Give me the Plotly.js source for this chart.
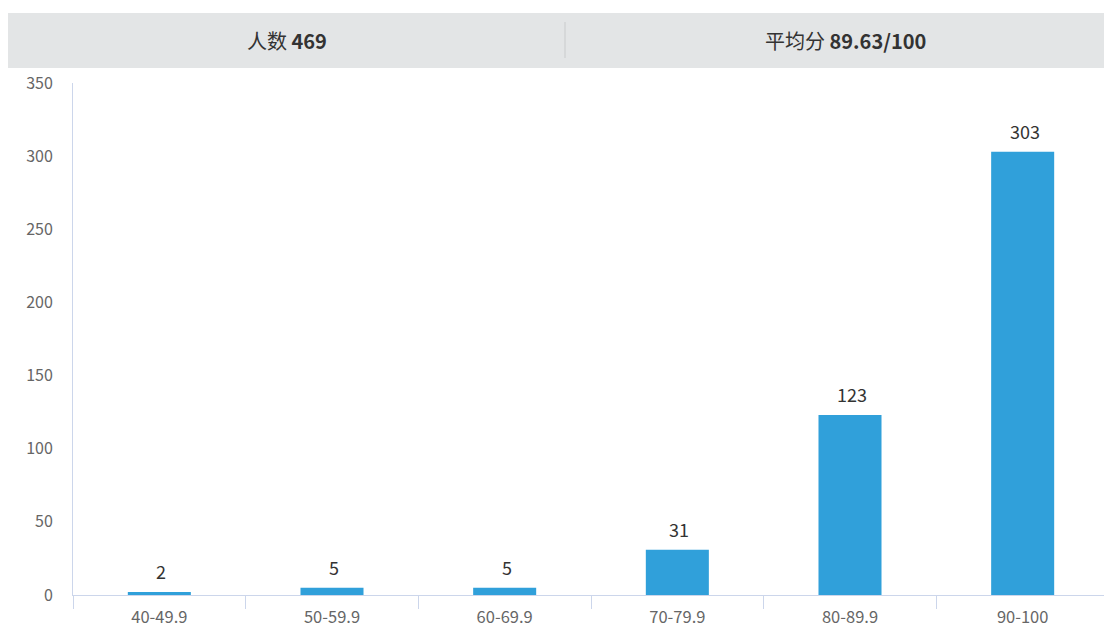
<!DOCTYPE html>
<html><head><meta charset="utf-8">
<script src="https://cdn.plot.ly/plotly-3.0.1.min.js"></script>
<style>html,body{margin:0;padding:0;overflow:hidden;background:#fff}</style>
</head><body>
<div id="chart" style="width:1120px;height:642px"></div>
<script>
const categories = ['40-49.9','50-59.9','60-69.9','70-79.9','80-89.9','90-100'];
const counts = [2, 5, 5, 31, 123, 303];
const yTicks = [0, 50, 100, 150, 200, 250, 300, 350];
const headerLeft = '人数 <b>469</b>';
const headerRight = '平均分 <b>89.63/100</b>';

const FONT = '"Noto Sans CJK SC", "Noto Sans", sans-serif';
const W = 1120, H = 642, ML = 73, MR = 11, MT = 83, MB = 47;
const pw = W - ML - MR, ph = H - MT - MB;
const px = v => (v - ML) / pw;
const py = v => (H - MB - v) / ph;

const trace = {
  type: 'bar', x: categories, y: counts,
  marker: {color: '#30a0da'},
  hoverinfo: 'skip'
};

const valueLabels = categories.map((c, i) => ({
  x: c, y: counts[i], xref: 'x', yref: 'y',
  text: String(counts[i]), showarrow: false,
  yanchor: 'bottom', yshift: 6, xshift: 2,
  font: {family: FONT, size: 18, color: '#333'}
}));

const layout = {
  width: W, height: H,
  margin: {l: ML, r: MR, t: MT, b: MB},
  paper_bgcolor: '#fff', plot_bgcolor: '#fff',
  showlegend: false,
  bargap: 0.635,
  font: {family: FONT},
  xaxis: {
    type: 'category', range: [-0.5, 5.5], fixedrange: true,
    showline: true, linecolor: '#ccd6eb', linewidth: 1,
    ticks: 'outside', tickson: 'boundaries', ticklen: 13, tickcolor: '#ccd6eb', tickwidth: 1,
    ticklabelstandoff: 7,
    showgrid: false, zeroline: false,
    tickfont: {family: FONT, size: 16.5, color: '#666'}
  },
  yaxis: {
    range: [0, 350], tickvals: yTicks, fixedrange: true,
    showline: true, linecolor: '#ccd6eb', linewidth: 1,
    showgrid: false, zeroline: false, ticks: '',
    ticklabelstandoff: 16,
    tickfont: {family: FONT, size: 16, color: '#666'}
  },
  shapes: [
    {type: 'rect', xref: 'paper', yref: 'paper', x0: px(8), x1: px(1130), y0: py(68), y1: py(13),
     fillcolor: '#e3e5e6', line: {width: 0}, layer: 'below'},
    {type: 'line', xref: 'paper', yref: 'paper', x0: px(565), x1: px(565), y0: py(58), y1: py(22),
     line: {color: '#c9cbcc', width: 1}}
  ],
  annotations: valueLabels.concat([
    {xref: 'paper', yref: 'paper', x: px(287), y: py(40), text: headerLeft, showarrow: false,
     xanchor: 'center', yanchor: 'middle', font: {family: FONT, size: 20, color: '#333'}},
    {xref: 'paper', yref: 'paper', x: px(845), y: py(40), text: headerRight, showarrow: false,
     xanchor: 'center', yanchor: 'middle', font: {family: FONT, size: 20, color: '#333'}}
  ])
};

Plotly.newPlot('chart', [trace], layout, {displayModeBar: false, staticPlot: true});
</script>
</body></html>
